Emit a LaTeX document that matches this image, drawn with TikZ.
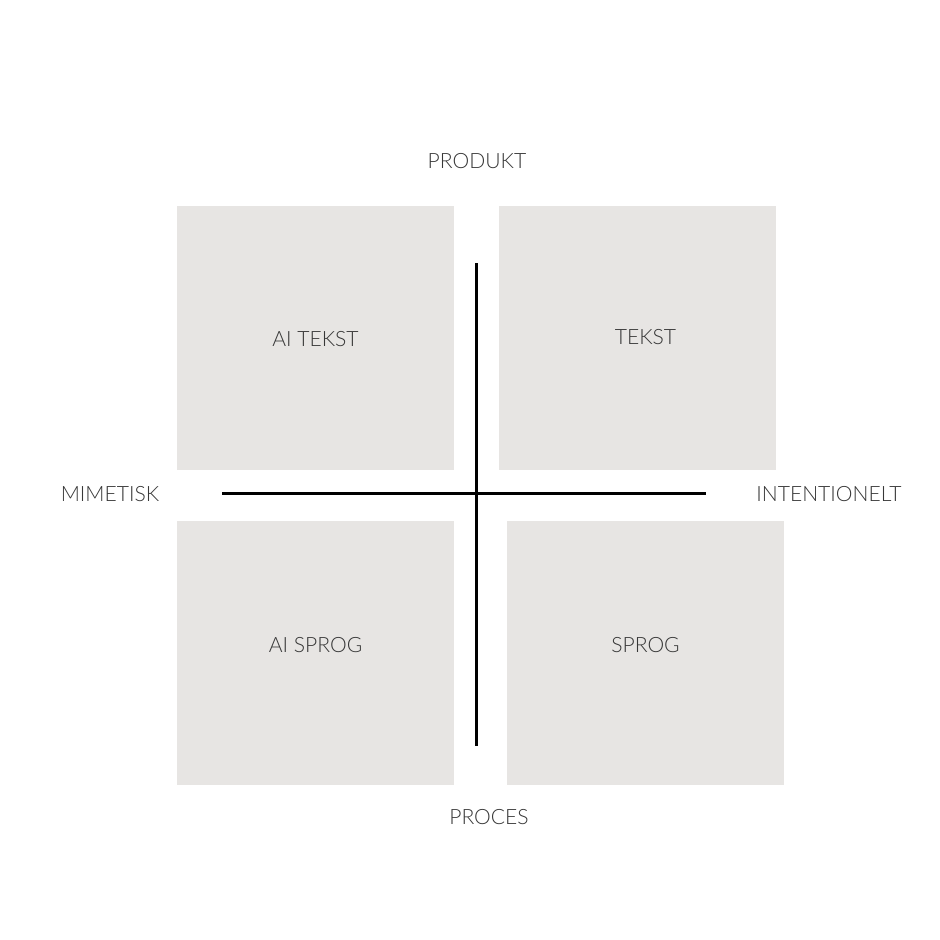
\documentclass[tikz,border=0pt]{standalone}
\usepackage{fontspec}
\setmainfont{Lato}[UprightFont=* Light]
\usetikzlibrary{
  positioning,
  calc}
\definecolor{boxcolor}{RGB}{231,229,227}
\definecolor{textcolor}{RGB}{55,55,55}
\tikzset{
  %% quadrant : one of the four grey fields
  quadrant/.style={
    rectangle,
    fill=boxcolor,
    minimum width=5.54cm,
    minimum height=5.28cm,
    inner sep=0pt
  },
  %% field : the text in a field
  field/.style={
    text=textcolor,
    font=\fontsize{12}{14}\selectfont,
    inner sep=0pt
  },
  %% axislabel : the text at an end of an axis
  axislabel/.style={
    text=textcolor,
    font=\fontsize{12}{14}\selectfont,
    inner sep=0pt
  },
  %% axis : the two crossing lines
  axis/.style={black, line width=0.06cm}
}

\begin{document}
\begin{tikzpicture}
  [x=0.02cm,
  y=-0.02cm]

  \useasboundingbox (0, 0) rectangle (940, 940);

  %% Fields
  \node (ai tekst box) [quadrant] at (315.5, 338) {};
  \node (tekst box) [quadrant] at (637.5, 338) {};
  \node (ai sprog box) [quadrant] at (315.5, 653) {};
  \node (sprog box) [quadrant] at (645.5, 653) {};

  \node (ai tekst) [field] at ([yshift=-0.02cm]ai tekst box.center) {AI TEKST};
  \node (tekst) [field] at ([xshift=0.16cm, yshift=0.02cm]tekst box.center) {TEKST};
  \node (ai sprog) [field] at ([yshift=0.16cm]ai sprog box.center) {AI SPROG};
  \node (sprog) [field] at ([yshift=0.16cm]sprog box.center) {SPROG};

  %% Axes
  \coordinate (top) at (476, 263);
  \coordinate (bottom) at (476, 746);
  \coordinate (left) at (222, 493);
  \coordinate (right) at (706, 493);
  \draw [axis] (top) -- (bottom);
  \draw [axis] (left) -- (right);

  %% Axis labels
  \node (produkt) [axislabel] at (477, 161) {PRODUKT};
  \node (proces) [axislabel] at (489, 817) {PROCES};
  \node (mimetisk) [axislabel] at (110, 494) {MIMETISK};
  \node (intentionelt) [axislabel] at (829, 494) {INTENTIONELT};

\end{tikzpicture}
\end{document}
